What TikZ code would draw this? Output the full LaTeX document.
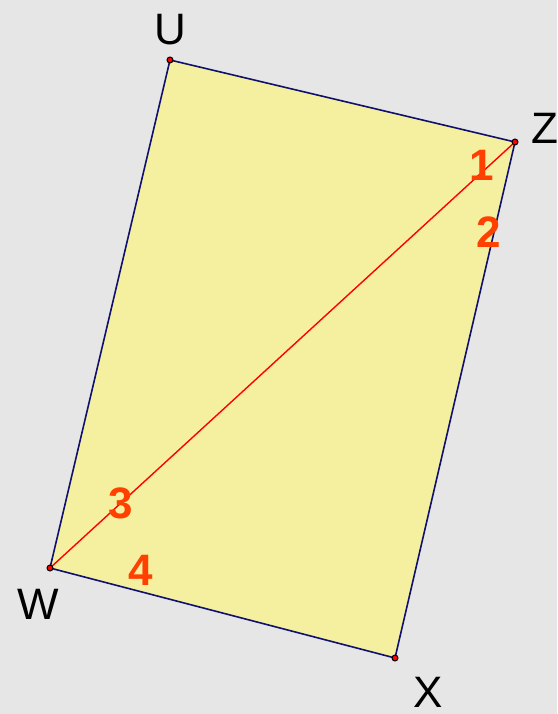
\documentclass[tikz,border=0pt]{standalone}
\usepackage{fontspec}
\setmainfont{Liberation Sans}
\begin{document}
\begin{tikzpicture}[x=1pt,y=-1pt,
  vlabel/.style={font=\fontsize{44}{46}\selectfont, text=black, inner sep=0pt},
  num/.style={font=\fontsize{44}{46}\selectfont\bfseries, text=numred, inner sep=0pt},
  edge/.style={draw=navyedge, line width=1.6pt},
  diag/.style={draw=red, line width=1.4pt},
  vdot/.style={circle, fill=red, draw=black, line width=1pt, minimum size=6pt, inner sep=0pt}]
\definecolor{numred}{HTML}{FF4000}
\definecolor{navyedge}{HTML}{10106E}
\definecolor{bg}{HTML}{E6E6E6}
\definecolor{quad}{HTML}{F5F0A0}
\fill[bg] (0,0) rectangle (557,714);
\useasboundingbox (0,0) rectangle (557,714);
\coordinate (U) at (170,60);
\coordinate (Z) at (515,142);
\coordinate (X) at (395,658);
\coordinate (W) at (50,568);
\fill[quad] (U) -- (Z) -- (X) -- (W) -- cycle;
\draw[edge] (U) -- (Z) -- (X) -- (W) -- cycle;
\draw[diag] (W) -- (Z);
\foreach \p in {U,Z,X,W} \node[vdot] at (\p) {};
\node[vlabel] (lU) at (170,30) {U};
\node[vlabel] (lZ) at (545,128) {Z};
\node[vlabel] (lW) at (38,604) {W};
\node[vlabel] (lX) at (428,692) {X};
\node[num] (n1) at (482,165) {1};
\node[num] (n2) at (489,232) {2};
\node[num] (n3) at (121,503) {3};
\node[num] (n4) at (141,570) {4};
\end{tikzpicture}
\end{document}
